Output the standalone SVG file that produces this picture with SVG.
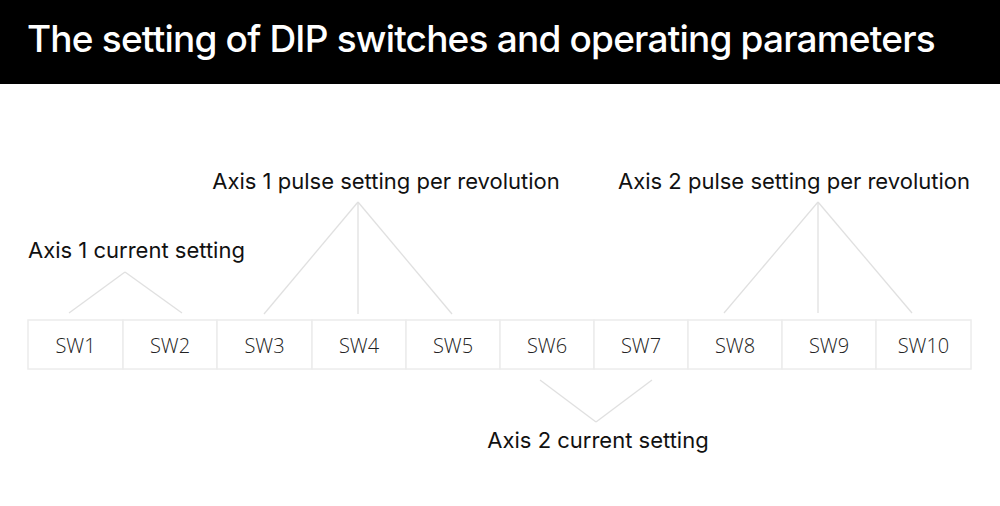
<svg xmlns="http://www.w3.org/2000/svg" width="1000" height="506" viewBox="0 0 1000 506">
<style>
.title{font-family:Inter,"Liberation Sans",sans-serif;font-size:37px;font-weight:500;fill:#fff;letter-spacing:-0.8px}
.lbl{font-family:Inter,"Liberation Sans",sans-serif;font-size:22px;fill:#111;text-anchor:middle}
.sw{font-family:"Open Sans","Liberation Sans",sans-serif;font-size:20px;font-weight:300;fill:#222;text-anchor:middle}
.cell{fill:#fff;stroke:#ececec;stroke-width:1.5}
.conn line{stroke:#e0e0e0;stroke-width:1.3}
</style>
<rect x="0" y="0" width="1000" height="506" fill="#fff"/>
<rect x="0" y="0" width="1000" height="84" fill="#000"/>
<text class="title" x="27" y="52">The setting of DIP switches and operating parameters</text>
<g id="sw1"><rect class="cell" x="28" y="320" width="95" height="49"/><text class="sw" x="75.5" y="353">SW1</text></g>
<g id="sw2"><rect class="cell" x="123" y="320" width="94" height="49"/><text class="sw" x="170" y="353">SW2</text></g>
<g id="sw3"><rect class="cell" x="217" y="320" width="95" height="49"/><text class="sw" x="264.5" y="353">SW3</text></g>
<g id="sw4"><rect class="cell" x="312" y="320" width="94" height="49"/><text class="sw" x="359" y="353">SW4</text></g>
<g id="sw5"><rect class="cell" x="406" y="320" width="94" height="49"/><text class="sw" x="453" y="353">SW5</text></g>
<g id="sw6"><rect class="cell" x="500" y="320" width="94" height="49"/><text class="sw" x="547" y="353">SW6</text></g>
<g id="sw7"><rect class="cell" x="594" y="320" width="94" height="49"/><text class="sw" x="641" y="353">SW7</text></g>
<g id="sw8"><rect class="cell" x="688" y="320" width="94" height="49"/><text class="sw" x="735" y="353">SW8</text></g>
<g id="sw9"><rect class="cell" x="782" y="320" width="94" height="49"/><text class="sw" x="829" y="353">SW9</text></g>
<g id="sw10"><rect class="cell" x="876" y="320" width="95" height="49"/><text class="sw" x="923.5" y="353">SW10</text></g>
<g id="lbl-a1c"><text class="lbl" x="136.5" y="258">Axis 1 current setting</text></g>
<g id="lbl-a1p"><text class="lbl" x="386" y="189">Axis 1 pulse setting per revolution</text></g>
<g id="lbl-a2p"><text class="lbl" x="794" y="189">Axis 2 pulse setting per revolution</text></g>
<g id="lbl-a2c"><text class="lbl" x="598" y="448">Axis 2 current setting</text></g>
<g id="connectors" class="conn">
<line x1="125" y1="272" x2="69" y2="313"/>
<line x1="125" y1="272" x2="182" y2="313"/>
<line x1="358" y1="202" x2="264" y2="314"/>
<line x1="358" y1="202" x2="358" y2="314"/>
<line x1="358" y1="202" x2="452" y2="314"/>
<line x1="818" y1="202" x2="724" y2="313"/>
<line x1="818" y1="202" x2="818" y2="313"/>
<line x1="818" y1="202" x2="912" y2="313"/>
<line x1="596" y1="422" x2="540" y2="380"/>
<line x1="596" y1="422" x2="652" y2="380"/>
</g>
</svg>
